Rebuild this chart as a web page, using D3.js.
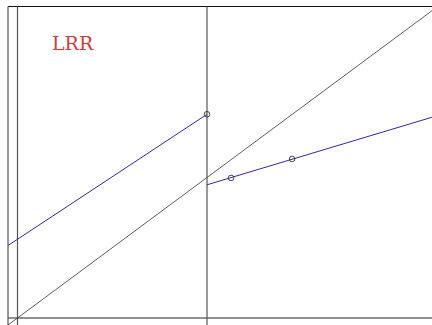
<!DOCTYPE html>
<html>
<head>
<meta charset="utf-8">
<script src="https://cdn.jsdelivr.net/npm/d3@7"></script>
<style>
  html, body { margin: 0; padding: 0; background: #fff; }
  svg { display: block; }
  .lbl { font-family: "DejaVu Serif", "Liberation Serif", "Noto Serif", serif; }
</style>
</head>
<body>
<svg id="chart" width="432" height="325"></svg>
<script>
// data (cutoff at x = 1)
const cutoff = 1;
const leftFit  = [[-0.05, 0.516], [1, 1.45]];
const rightFit = [[1, 0.948], [2.19, 1.43]];
const obsPoints = [[1, 1.45], [1.127, 0.997], [1.449, 1.132]];
const diagonal = [[-0.05, -0.05], [2.3, 2.3]];
const label = "LRR";

const W = 432, H = 325;
const svg = d3.select("#chart");

// scales: origin at (17.5, 318)
const x = d3.scaleLinear().domain([0, 1]).range([17.5, 207]);
const y = d3.scaleLinear().domain([0, 1]).range([318, 177.5]);

const xMin = x.invert(8), xMax = x.invert(W);
const yTop = y.invert(6.5), yBot = y.invert(H);

const line = d3.line().x(d => x(d[0])).y(d => y(d[1]));

// frame: top and bottom rules
svg.append("path")
  .attr("d", line([[xMin, yTop], [xMax, yTop]]))
  .attr("stroke", "#111").attr("stroke-width", 1).attr("fill", "none");
svg.append("path")
  .attr("d", line([[xMin, 0], [xMax, 0]]))
  .attr("stroke", "#222").attr("stroke-width", 1).attr("fill", "none");

// verticals: left edge, y axis, cutoff
[xMin, 0, cutoff].forEach(v => {
  svg.append("path")
    .attr("d", line([[v, yTop], [v, yBot]]))
    .attr("stroke", "#555").attr("stroke-width", 1.2).attr("fill", "none");
});

// 45-degree line
svg.append("path")
  .attr("d", line(diagonal))
  .attr("stroke", "#333").attr("stroke-width", 0.8).attr("fill", "none");

// fitted lines either side of the cutoff
[leftFit, rightFit].forEach(seg => {
  svg.append("path")
    .attr("d", line(seg))
    .attr("stroke", "#2a2aa8").attr("stroke-width", 1).attr("fill", "none");
});

// open circles
svg.selectAll("circle.pt")
  .data(obsPoints)
  .enter().append("circle")
  .attr("class", "pt")
  .attr("cx", d => x(d[0]))
  .attr("cy", d => y(d[1]))
  .attr("r", 2.8)
  .attr("fill", "none")
  .attr("stroke", "#333")
  .attr("stroke-width", 0.9);

// label
svg.append("text")
  .attr("class", "lbl")
  .attr("x", 52).attr("y", 50)
  .attr("font-size", 19)
  .attr("fill", "#d23b3b")
  .text(label);
</script>
</body>
</html>
